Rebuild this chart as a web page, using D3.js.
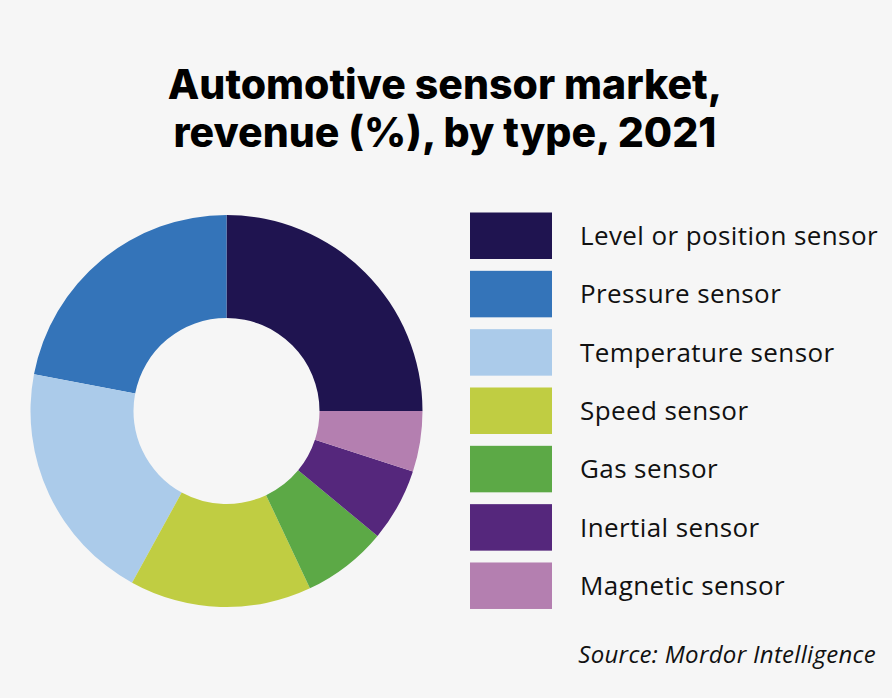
<!DOCTYPE html>
<html><head><meta charset="utf-8">
<script src="https://cdn.jsdelivr.net/npm/d3@7"></script>
<style>html,body{margin:0;padding:0;background:#f6f6f6;}svg{display:block;}</style>
</head><body>
<script>
const categories = ["Level or position sensor","Pressure sensor","Temperature sensor","Speed sensor","Gas sensor","Inertial sensor","Magnetic sensor"];
const values = [25, 22, 20, 15, 7, 6, 5];
const colors = ["#1f1450","#3474b9","#abcbea","#c0cd42","#5ca946","#55277c","#b47fb0"];
const titleLines = ["Automotive sensor market,","revenue (%), by type, 2021"];
const sourceText = "Source: Mordor Intelligence";

const W = 892, H = 698;
const svg = d3.select("body").append("svg").attr("width", W).attr("height", H);
svg.append("rect").attr("width", W).attr("height", H).attr("fill", "#f6f6f6");

const data = categories.map((c,i)=>({name:c, value:values[i], color:colors[i]}));

// title
svg.append("g").selectAll("text").data(titleLines).join("text")
  .attr("x", 445).attr("y", (d,i)=>99 + i*48)
  .attr("text-anchor","middle")
  .attr("font-family","Inter, 'Noto Sans', sans-serif")
  .attr("font-weight", 800)
  .attr("font-size", 41)
  .attr("fill", "#000")
  .text(d=>d);

// donut
const cx = 226.5, cy = 411, R = 196, r = 93;
const pie = d3.pie().value(d=>d.value).sort(null)
  .startAngle(Math.PI/2).endAngle(Math.PI/2 - 2*Math.PI);
const arc = d3.arc().innerRadius(r).outerRadius(R);
svg.append("g").attr("transform", `translate(${cx},${cy})`)
  .selectAll("path").data(pie(data)).join("path")
  .attr("d", arc).attr("fill", d=>d.data.color);

// legend
const y = d3.scaleBand().domain(categories).range([212.5, 212.5 + 58.33*7]).paddingInner(0);
const lg = svg.append("g");
lg.selectAll("rect").data(data).join("rect")
  .attr("x", 470).attr("y", d=>y(d.name)).attr("width", 82).attr("height", 46.5)
  .attr("fill", d=>d.color);
lg.selectAll("text").data(data).join("text")
  .attr("x", 580).attr("y", d=>y(d.name) + 32.5)
  .attr("font-family","'Open Sans', 'Noto Sans', sans-serif")
  .attr("font-size", 26)
  .attr("letter-spacing", 0.4)
  .attr("fill", "#111")
  .text(d=>d.name);

svg.append("text").attr("x", 876).attr("y", 663).attr("text-anchor","end")
  .attr("font-family","'Open Sans', 'Noto Sans', sans-serif").attr("font-style","italic")
  .attr("font-size", 24).attr("letter-spacing", 0.3).attr("fill","#111").text(sourceText);
</script>
</body></html>
